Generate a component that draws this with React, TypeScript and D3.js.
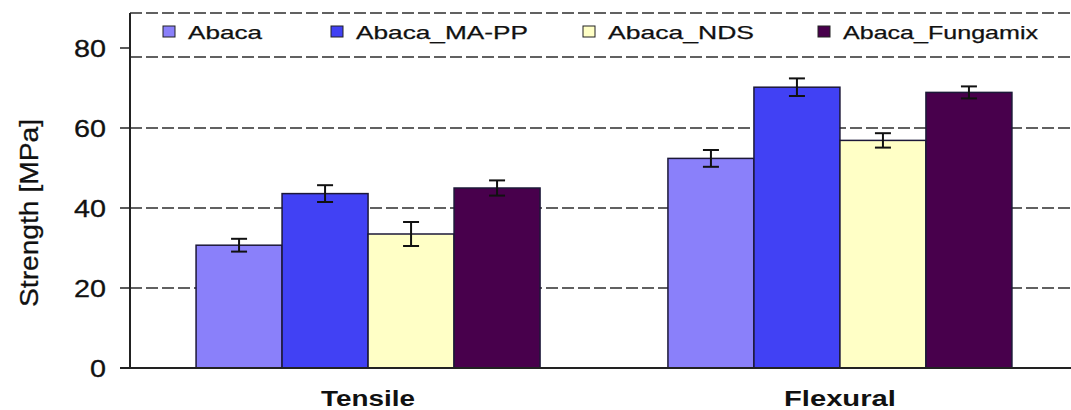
import * as d3 from 'd3'

// values
const categories = ['Tensile', 'Flexural']
const seriesNames = ['Abaca', 'Abaca_MA-PP', 'Abaca_NDS', 'Abaca_Fungamix']
const tensileMeans = [30.7, 43.6, 33.5, 45.0]
const tensileErrors = [1.6, 2.1, 3.0, 1.9]
const flexuralMeans = [52.4, 70.2, 56.9, 68.9]
const flexuralErrors = [2.1, 2.2, 1.8, 1.5]
const yTicks = [0, 20, 40, 60, 80]
const seriesColors = ['#8a80fa', '#4141f4', '#ffffc6', '#48004c']

const W = 1071
const H = 410
const marginLeft = 130
const marginTop = 13
const baseY = 368

// table built from the arrays above
const rows = categories.map((c, i) => ({
	cat: c,
	means: i === 0 ? tensileMeans : flexuralMeans,
	errs: i === 0 ? tensileErrors : flexuralErrors,
}))

export default function App() {
	const x0 = d3.scaleBand<string>()
		.domain(categories)
		.range([marginLeft, 1078])
		.paddingInner(0.271)
		.paddingOuter(0.14)

	const x1 = d3.scaleBand<string>()
		.domain(seriesNames)
		.range([0, x0.bandwidth()])
		.padding(0)

	const y = d3.scaleLinear().domain([0, 80]).range([baseY, 48])

	// legend layout (marker x, text width)
	const legendX = [163, 331, 583, 818]
	const legendW = [74, 172, 146, 195]

	return (
		<svg width={W} height={H} style={{ position: 'absolute', left: 0, top: 0, background: '#fff' }}
			fontFamily="Liberation Sans, Arial, sans-serif">
			{/* grid */}
			{yTicks.filter(t => t > 0 && t < 80).map(t => (
				<line key={'g' + t} x1={marginLeft} x2={W} y1={y(t)} y2={y(t)}
					stroke="#2e2e2e" strokeWidth={1.5} strokeDasharray="12 4" />
			))}

			{/* bars */}
			{rows.map(r => (
				<g key={r.cat} transform={`translate(${x0(r.cat)},0)`}>
					{seriesNames.map((s, i) => (
						<rect key={s} x={x1(s)} y={y(r.means[i])} width={x1.bandwidth()}
							height={baseY - y(r.means[i])} fill={seriesColors[i]}
							stroke="#1c1838" strokeWidth={1.5} />
					))}
					{seriesNames.map((s, i) => {
						const cx = (x1(s) as number) + x1.bandwidth() / 2
						const top = y(r.means[i] + r.errs[i])
						const bot = y(r.means[i] - r.errs[i])
						return (
							<g key={'e' + s} stroke="#111" strokeWidth={2}>
								<line x1={cx} x2={cx} y1={top} y2={bot} />
								<line x1={cx - 8} x2={cx + 8} y1={top} y2={top} />
								<line x1={cx - 8} x2={cx + 8} y1={bot} y2={bot} />
							</g>
						)
					})}
				</g>
			))}

			{/* axes */}
			<line x1={marginLeft - 10} x2={W} y1={baseY} y2={baseY} stroke="#222" strokeWidth={2} />
			{yTicks.map(t => (
				<g key={'t' + t}>
					<line x1={marginLeft - 10} x2={marginLeft} y1={y(t)} y2={y(t)} stroke="#222" strokeWidth={1.5} />
					<text x={106} y={y(t) + 8.5} textAnchor="end" fontSize={24} fill="#111"
						stroke="#111" strokeWidth={0.3}
						textLength={t === 0 ? 16 : 32} lengthAdjust="spacingAndGlyphs">{t}</text>
				</g>
			))}
			<text transform={`translate(38,213) rotate(-90)`} textAnchor="middle" fontSize={26} fill="#111"
				stroke="#111" strokeWidth={0.3}
				textLength={188} lengthAdjust="spacingAndGlyphs">Strength [MPa]</text>

			{categories.map((c, i) => (
				<text key={c} x={(x0(c) as number) + x0.bandwidth() / 2} y={406} textAnchor="middle"
					fontSize={22} fontWeight="bold" fill="#111"
					textLength={i === 0 ? 94 : 112} lengthAdjust="spacingAndGlyphs">{c}</text>
			))}

			{/* legend */}
			<rect x={marginLeft} y={marginTop} width={W} height={44} fill="#fff" />
			<line x1={marginLeft} x2={W} y1={marginTop} y2={marginTop} stroke="#2e2e2e" strokeWidth={1.5} strokeDasharray="12 4" />
			<line x1={marginLeft} x2={W} y1={57} y2={57} stroke="#2e2e2e" strokeWidth={1.5} strokeDasharray="12 4" />
			{seriesNames.map((s, i) => (
				<g key={'l' + s}>
					<rect x={legendX[i]} y={26} width={12} height={11} fill={seriesColors[i]} stroke="#222" strokeWidth={1} />
					<text x={legendX[i] + 25} y={38.5} fontSize={18.5} fill="#111" stroke="#111" strokeWidth={0.25}
						textLength={legendW[i]} lengthAdjust="spacingAndGlyphs">{s}</text>
				</g>
			))}
			<line x1={marginLeft} x2={marginLeft} y1={marginTop} y2={baseY} stroke="#222" strokeWidth={2} />
		</svg>
	)
}
